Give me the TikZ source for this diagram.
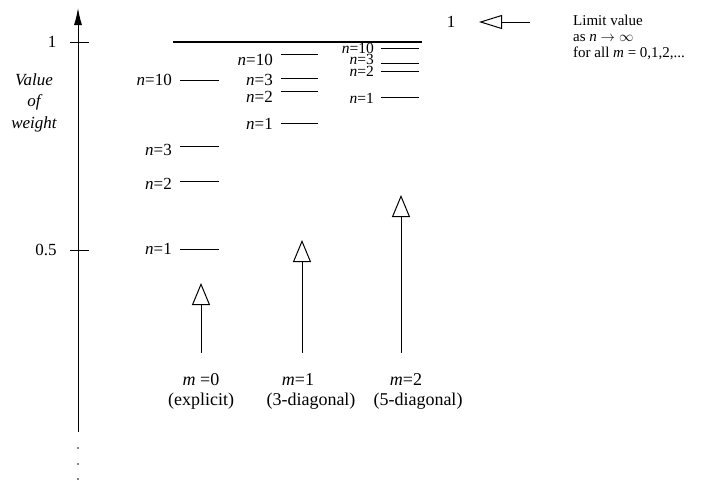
\documentclass[tikz,border=0pt]{standalone}
\usepackage{fontspec}
\setmainfont{Liberation Serif}
\usetikzlibrary{arrows.meta}
\begin{document}
\begin{tikzpicture}[x=1pt,y=-1pt,
  lbl/.style={font=\fontsize{17}{19}\selectfont,inner sep=0pt},
  slbl/.style={font=\fontsize{15.5}{17}\selectfont,inner sep=0pt,anchor=east,text height=10.5pt,text depth=0pt},
  blbl/.style={font=\fontsize{18}{20}\selectfont,inner sep=0pt},
  rlbl/.style={font=\fontsize{15}{16}\selectfont,inner sep=0pt,anchor=west,text height=10pt,text depth=2pt},
  vlbl/.style={font=\fontsize{17}{19}\selectfont\itshape,inner sep=0pt},
  nlbl/.style={lbl,anchor=east},
  lvl/.style={line width=0.9pt},
  openarr/.style={line width=0.8pt,-{Triangle[open,length=22pt,width=18pt,line width=1pt]}},
  axisarr/.style={line width=1pt,-{Latex[length=17pt,width=8pt]}}]
\useasboundingbox (0,0) rectangle (724,482);
% axis
\coordinate (axb) at (78,432);
\coordinate (axt) at (78,8);
\draw[axisarr] (axb) -- (axt);
\foreach \yy in {448,464,479}{\fill (78,\yy) circle (0.8pt);}
\coordinate (t1a) at (70,42); \coordinate (t1b) at (89,42);
\coordinate (t5a) at (70,250); \coordinate (t5b) at (89,250);
\draw[line width=0.8pt] (t1a) -- (t1b);
\draw[line width=0.8pt] (t5a) -- (t5b);
\node[lbl] (one) at (52,42) {1};
\node[lbl] (half) at (46,250) {0.5};
\node[vlbl] (v1) at (34,80) {Value};
\node[vlbl] (v2) at (34,102) {of};
\node[vlbl] (v3) at (34,124) {weight};
% limit line
\coordinate (lima) at (173,42); \coordinate (limb) at (422,42);
\draw[line width=1.6pt] (lima) -- (limb);
% m=0 levels
\foreach \nm/\yl/\yt/\tx in {a10/80/80/10,a3/146/150/3,a2/181/184/2,a1/249/249/1}{
  \coordinate (\nm l) at (180,\yl); \coordinate (\nm r) at (219,\yl);
  \draw[lvl] (\nm l) -- (\nm r);
  \node[nlbl] (\nm t) at (172,\yt) {\textit{n}=\tx};
}
% m=1 levels
\foreach \nm/\yl/\yt/\tx in {b10/54/60/10,b3/78/80/3,b2/91/97/2,b1/123/124/1}{
  \coordinate (\nm l) at (281,\yl); \coordinate (\nm r) at (318,\yl);
  \draw[lvl] (\nm l) -- (\nm r);
  \node[nlbl] (\nm t) at (273,\yt) {\textit{n}=\tx};
}
% m=2 levels
\foreach \nm/\yl/\yt/\tx in {c10/48/48/10,c3/63/59.5/3,c2/71/71/2,c1/97/98/1}{
  \coordinate (\nm l) at (381,\yl); \coordinate (\nm r) at (419,\yl);
  \draw[lvl] (\nm l) -- (\nm r);
  \node[slbl] (\nm t) at (374,\yt) {\textit{n}=\tx};
}
% open arrows
\coordinate (m0b) at (201,353); \coordinate (m0t) at (201,283);
\coordinate (m1b) at (302,353); \coordinate (m1t) at (302,240);
\coordinate (m2b) at (401,353); \coordinate (m2t) at (401,195);
\draw[openarr] (m0b) -- (m0t);
\draw[openarr] (m1b) -- (m1t);
\draw[openarr] (m2b) -- (m2t);
\node[blbl] (m0l) at (201,380) {\textit{m} =0};
\node[blbl] (m0p) at (201,401) {(explicit)};
\node[blbl] (m1l) at (298,380) {\textit{m}=1};
\node[blbl] (m1p) at (311,401) {(3-diagonal)};
\node[blbl] (m2l) at (406,380) {\textit{m}=2};
\node[blbl] (m2p) at (418,401) {(5-diagonal)};
% limit annotation
\node[lbl] (lim1) at (451,22) {1};
\coordinate (la) at (530,22); \coordinate (lb) at (479,22);
\draw[line width=0.8pt,-{Triangle[open,length=23pt,width=14pt,line width=1pt]}] (la) -- (lb);
\node[rlbl] (t1) at (573,21) {Limit value};
\node[rlbl] (t2) at (573,37) {as \textit{n} $\rightarrow\infty$};
\node[rlbl] (t3) at (573,53) {for all \textit{m} = 0,1,2,...};
\end{tikzpicture}
\end{document}
